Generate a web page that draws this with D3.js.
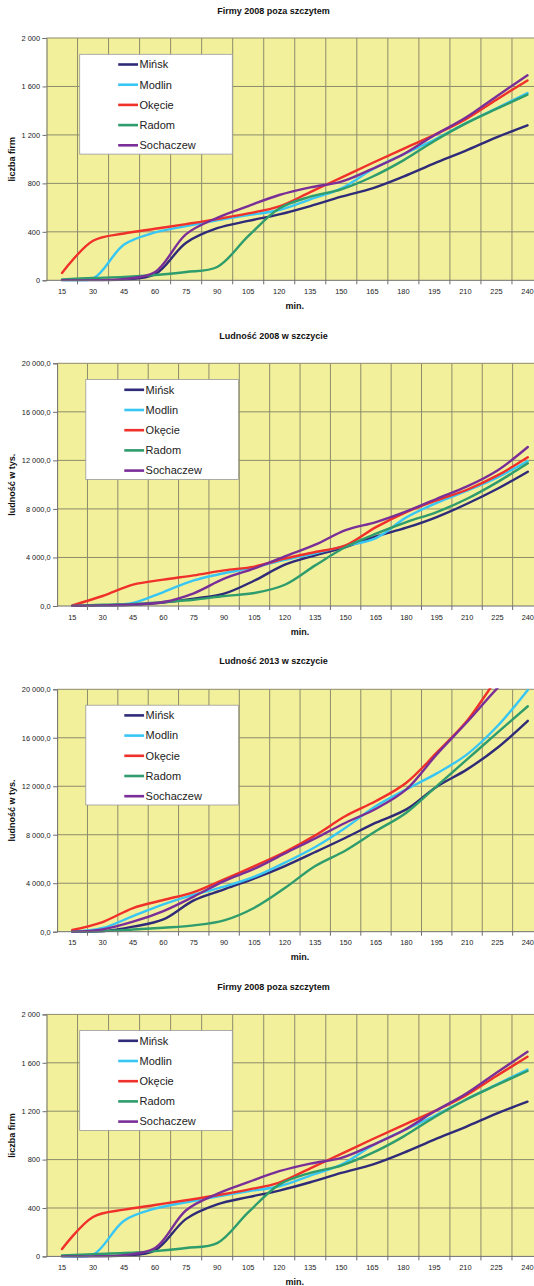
<!DOCTYPE html>
<html>
<head>
<meta charset="utf-8">
<script src="https://cdn.jsdelivr.net/npm/d3@7"></script>
<style>
  html, body { margin: 0; padding: 0; background: #ffffff; }
  svg { display: block; font-family: "Liberation Sans", Arial, sans-serif; }
</style>
</head>
<body>
<svg id="chart" width="534" height="1286"></svg>
<script>
// ---------- data ----------
const categories = [15, 30, 45, 60, 75, 90, 105, 120, 135, 150, 165, 180, 195, 210, 225, 240];
const seriesNames = ["Mińsk", "Modlin", "Okęcie", "Radom", "Sochaczew"];
const seriesColors = ["#2f2b78", "#38c6f4", "#f0302a", "#2e9c6c", "#7a2f98"];

// Firmy 2008 poza szczytem
const firmyMinsk     = [0, 0, 6, 50, 310, 430, 490, 544, 613, 690, 759, 856, 965, 1069, 1180, 1279];
const firmyModlin    = [0, 14, 295, 395, 447, 495, 538, 580, 668, 759, 915, 1040, 1160, 1295, 1420, 1545];
const firmyOkecie    = [61, 326, 386, 425, 464, 505, 552, 610, 728, 848, 968, 1085, 1200, 1328, 1491, 1650];
const firmyRadom     = [8, 19, 28, 44, 69, 110, 364, 593, 690, 751, 855, 990, 1150, 1293, 1415, 1532];
const firmySochaczew = [0, 0, 11, 69, 381, 516, 613, 704, 767, 814, 920, 1040, 1197, 1341, 1518, 1692];

// Ludność 2008 w szczycie
const lud08Minsk     = [0, 50, 100, 275, 604, 1016, 2100, 3404, 4172, 4859, 5737, 6451, 7330, 8427, 9662, 11067];
const lud08Modlin    = [0, 50, 247, 1153, 2114, 2700, 3200, 3800, 4350, 4950, 5600, 7300, 8500, 9500, 10600, 11950];
const lud08Okecie    = [55, 824, 1757, 2169, 2525, 2937, 3250, 3900, 4447, 4996, 6500, 7741, 8702, 9580, 10760, 12250];
const lud08Radom     = [0, 100, 170, 330, 520, 820, 1070, 1750, 3349, 4859, 5957, 6917, 7741, 8839, 10211, 11760];
const lud08Sochaczew = [0, 50, 120, 330, 1050, 2250, 3100, 4090, 5050, 6250, 6917, 7796, 8839, 9855, 11172, 13100];

// Ludność 2013 w szczycie
const lud13Minsk     = [0, 30, 413, 1018, 2585, 3493, 4400, 5418, 6573, 7755, 8993, 10093, 11963, 13393, 15180, 17400];
const lud13Modlin    = [0, 303, 1293, 2255, 3053, 3713, 4538, 5693, 6985, 8580, 10368, 11743, 13063, 14630, 16968, 19950];
const lud13Okecie    = [138, 798, 1953, 2613, 3273, 4318, 5418, 6573, 7948, 9543, 10780, 12293, 14768, 17400, 20900, 23800];
const lud13Radom     = [0, 50, 180, 330, 523, 935, 1980, 3600, 5418, 6700, 8305, 9818, 12018, 14218, 16418, 18600];
const lud13Sochaczew = [0, 193, 825, 1705, 2900, 4180, 5198, 6463, 7700, 8993, 10148, 11743, 14630, 17300, 20100, 22500];

const firmyTicks = [0, 400, 800, 1200, 1600, 2000];
const ludTicks = [0, 4000, 8000, 12000, 16000, 20000];

// ---------- formatting ----------
const plLocale = d3.formatLocale({ decimal: ",", thousands: "\u00a0", grouping: [3], currency: ["", ""] });
const fmtInt = plLocale.format(",d");
const fmtDec = plLocale.format(",.1f");

const panels = [
  { title: "Firmy 2008 poza szczytem", titleY: 10.7, top: 38, bottom: 280.3, left: 46.5,
    ticks: firmyTicks, fmt: fmtInt, yTitle: "liczba firm", xLabY: 291.7, minY: 306,
    legend: { x: 79.7, y: 54.3 },
    data: [firmyMinsk, firmyModlin, firmyOkecie, firmyRadom, firmySochaczew] },
  { title: "Ludność 2008 w szczycie", titleY: 335.7, top: 363.3, bottom: 606, left: 57.1,
    ticks: ludTicks, fmt: fmtDec, yTitle: "ludność w tys.", xLabY: 617.3, minY: 632,
    legend: { x: 85.8, y: 379.6 },
    data: [lud08Minsk, lud08Modlin, lud08Okecie, lud08Radom, lud08Sochaczew] },
  { title: "Ludność 2013 w szczycie", titleY: 661, top: 689.3, bottom: 931.7, left: 57.1,
    ticks: ludTicks, fmt: fmtDec, yTitle: "ludność w tys.", xLabY: 942.7, minY: 957.3,
    legend: { x: 85.8, y: 705.2 },
    data: [lud13Minsk, lud13Modlin, lud13Okecie, lud13Radom, lud13Sochaczew] },
  { title: "Firmy 2008 poza szczytem", titleY: 986.9, top: 1014.4, bottom: 1256.4, left: 46.5,
    ticks: firmyTicks, fmt: fmtInt, yTitle: "liczba firm", xLabY: 1267.2, minY: 1282,
    legend: { x: 79.7, y: 1030.6 },
    data: [firmyMinsk, firmyModlin, firmyOkecie, firmyRadom, firmySochaczew] }
];

const plotRight = 543;
const svg = d3.select("#chart");

panels.forEach((p, pi) => {
  const g = svg.append("g");
  const x = d3.scaleBand().domain(categories).range([p.left, plotRight]).padding(0);
  const y = d3.scaleLinear().domain([0, d3.max(p.ticks)]).range([p.bottom, p.top]);

  // plot background
  g.append("rect").attr("x", p.left).attr("y", p.top)
    .attr("width", plotRight - p.left).attr("height", p.bottom - p.top)
    .attr("fill", "#f3f09b");

  // horizontal gridlines
  g.selectAll(".hg").data(p.ticks.filter(t => t > 0)).enter().append("line")
    .attr("x1", p.left).attr("x2", plotRight)
    .attr("y1", d => y(d)).attr("y2", d => y(d))
    .attr("stroke", "#8d8b6c").attr("stroke-width", 1);

  // vertical gridlines at category boundaries
  g.selectAll(".vg").data(categories.slice(1)).enter().append("line")
    .attr("x1", d => x(d)).attr("x2", d => x(d))
    .attr("y1", p.top).attr("y2", p.bottom)
    .attr("stroke", "#8d8b6c").attr("stroke-width", 1);

  // clip
  const clipId = "clip" + pi;
  svg.append("clipPath").attr("id", clipId).append("rect")
    .attr("x", p.left).attr("y", p.top - 1)
    .attr("width", plotRight - p.left).attr("height", p.bottom - p.top + 2);

  // lines
  const line = d3.line()
    .x((d, i) => x(categories[i]) + x.bandwidth() / 2)
    .y(d => y(d))
    .curve(d3.curveCatmullRom.alpha(0.5));
  const lg = g.append("g").attr("clip-path", `url(#${clipId})`);
  p.data.forEach((arr, si) => {
    lg.append("path").datum(arr)
      .attr("d", line)
      .attr("fill", "none")
      .attr("stroke", seriesColors[si])
      .attr("stroke-width", 2.4)
      .attr("stroke-linejoin", "round")
      .attr("stroke-linecap", "round");
  });

  // y axis
  const yAxis = d3.axisLeft(y).tickValues(p.ticks).tickFormat(p.fmt).tickSize(4).tickPadding(2.5);
  const ya = g.append("g").attr("transform", `translate(${p.left},0)`).call(yAxis);
  ya.select(".domain").attr("stroke", "#6e6e6e");
  ya.selectAll(".tick line").attr("stroke", "#6e6e6e");
  ya.selectAll(".tick text").attr("font-size", 7.4).attr("fill", "#222")
    .attr("font-family", "'Liberation Sans', Arial, sans-serif");

  // x axis: ticks at boundaries, labels centered
  const xa = g.append("g");
  xa.append("line").attr("x1", p.left).attr("x2", plotRight)
    .attr("y1", p.bottom).attr("y2", p.bottom).attr("stroke", "#6e6e6e");
  xa.selectAll(".xt").data(categories.slice(1)).enter().append("line")
    .attr("x1", d => x(d)).attr("x2", d => x(d))
    .attr("y1", p.bottom).attr("y2", p.bottom + 4).attr("stroke", "#6e6e6e");
  xa.selectAll(".xl").data(categories).enter().append("text")
    .attr("x", d => x(d) + x.bandwidth() / 2)
    .attr("y", p.xLabY).attr("dy", "0.35em")
    .attr("text-anchor", "middle").attr("font-size", 7.4).attr("fill", "#222")
    .text(d => d);

  // titles
  g.append("text").attr("x", 273.5).attr("y", p.titleY).attr("dy", "0.35em")
    .attr("text-anchor", "middle").attr("font-size", 9).attr("font-weight", "bold")
    .attr("fill", "#111").text(p.title);
  g.append("text").attr("x", (p.left + plotRight) / 2).attr("y", p.minY).attr("dy", "0.35em")
    .attr("text-anchor", "middle").attr("font-size", 9).attr("font-weight", "bold")
    .attr("fill", "#111").text("min.");
  g.append("text")
    .attr("transform", `translate(12.3,${(p.top + p.bottom) / 2}) rotate(-90)`)
    .attr("dy", "0.35em").attr("text-anchor", "middle")
    .attr("font-size", 9).attr("font-weight", "bold").attr("fill", "#111")
    .text(p.yTitle);

  // legend
  const L = g.append("g").attr("transform", `translate(${p.legend.x},${p.legend.y})`);
  L.append("rect").attr("width", 152.6).attr("height", 99.8)
    .attr("fill", "#ffffff").attr("stroke", "#9a9a9a").attr("stroke-width", 0.8);
  seriesNames.forEach((name, i) => {
    const cy = 10.2 + i * 20.2;
    L.append("line").attr("x1", 38.5).attr("x2", 58.3).attr("y1", cy).attr("y2", cy)
      .attr("stroke", seriesColors[i]).attr("stroke-width", 2.6);
    L.append("text").attr("x", 59.8).attr("y", cy).attr("dy", "0.35em")
      .attr("font-size", 11).attr("fill", "#222").text(name);
  });
});
</script>
</body>
</html>
